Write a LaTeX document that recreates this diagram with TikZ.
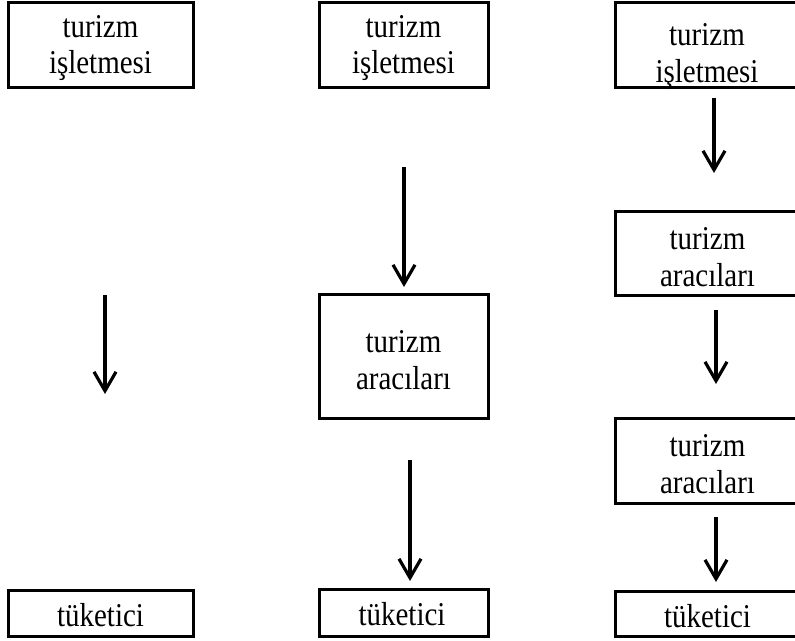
\documentclass[tikz,border=0pt]{standalone}
\usepackage{fontspec}
\setmainfont{Liberation Serif}
\newfontfamily\tallserif[FakeStretch=0.87]{Liberation Serif}
\usetikzlibrary{arrows.meta}
\tikzset{
  txtfont/.style={font=\tallserif\fontsize{33.3}{36.5}\selectfont},
  box/.style={draw, line width=3pt, inner sep=0pt},
  label/.style={inner sep=0pt, align=center, txtfont},
  flow/.style={line width=3.2pt, -{Straight Barb[length=19pt,width=22pt]}},
  colA/.style={minimum width=185pt},
  colB/.style={minimum width=169pt},
  colC/.style={minimum width=184.5pt}
}
\begin{document}
\begin{tikzpicture}[x=1pt,y=-1pt]
\useasboundingbox (0,0) rectangle (795,640);
\clip (0,0) rectangle (795,640);
% column 1
\node[box,colA,minimum height=85pt] (a1) at (100.5,44.5) {};
\node[label] (a1t) at (100.5,48) {turizm\\işletmesi};
\node[box,colA,minimum height=46pt] (a2) at (100.5,613) {};
\node[label] (a2t) at (100.5,615) {tüketici};
\coordinate (a3) at (105,295);
\coordinate (a4) at (105,394);
\draw[flow] (a3) -- (a4);
% column 2
\node[box,colB,minimum height=85pt] (b1) at (403.5,44.5) {};
\node[label] (b1t) at (403.5,48) {turizm\\işletmesi};
\node[box,colB,minimum height=124pt] (b2) at (403.5,356) {};
\node[label] (b2t) at (403.5,360) {turizm\\aracıları};
\node[box,colB,minimum height=47pt] (b3) at (403.5,612.5) {};
\node[label] (b3t) at (402,614.5) {tüketici};
\coordinate (b4) at (404,167);
\coordinate (b5) at (404,287);
\coordinate (b6) at (410,460);
\coordinate (b7) at (410,581);
\draw[flow] (b4) -- (b5);
\draw[flow] (b6) -- (b7);
% column 3
\node[box,colC,minimum height=85pt] (c1) at (707.75,44.5) {};
\node[label] (c1t) at (707,56.5) {turizm\\işletmesi};
\node[box,colC,minimum height=84pt] (c2) at (707.75,253) {};
\node[label] (c2t) at (707.5,257) {turizm\\aracıları};
\node[box,colC,minimum height=85pt] (c3) at (707.75,460.5) {};
\node[label] (c3t) at (707.5,464) {turizm\\aracıları};
\node[box,colC,minimum height=45pt] (c4) at (707.75,613.5) {};
\node[label] (c4t) at (707.5,616.5) {tüketici};
\coordinate (c5) at (714,98);
\coordinate (c6) at (714,173);
\coordinate (c7) at (716,310);
\coordinate (c8) at (716,384);
\coordinate (c9) at (716,517);
\coordinate (c10) at (716,582);
\draw[flow] (c5) -- (c6);
\draw[flow] (c7) -- (c8);
\draw[flow] (c9) -- (c10);
\end{tikzpicture}
\end{document}
